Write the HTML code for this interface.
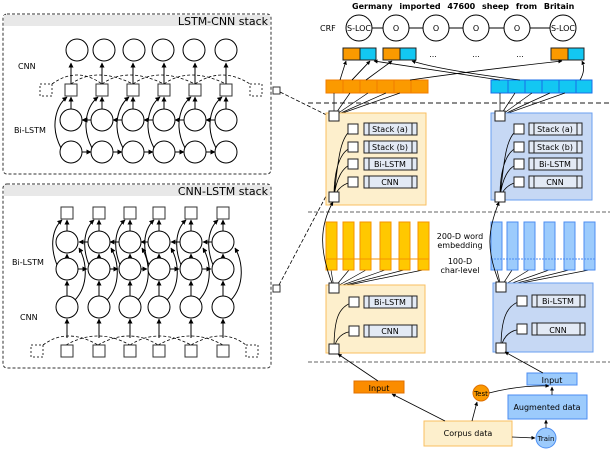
<!DOCTYPE html>
<html><head><meta charset="utf-8"><style>
html,body{margin:0;padding:0;background:#fff}
svg{display:block;font-family:"DejaVu Sans","Liberation Sans",sans-serif}
</style></head><body>
<svg width="610" height="450" viewBox="0 0 610 450" xmlns="http://www.w3.org/2000/svg">
<defs>
<marker id="a" viewBox="0 0 10 10" refX="9" refY="5" markerWidth="5" markerHeight="5" orient="auto"><path d="M0,0L10,5L0,10z" fill="#000"/></marker>
<g id="col1">
<circle cx="0" cy="152" r="11" fill="#fff" stroke="#000"/>
<circle cx="0" cy="120" r="11" fill="#fff" stroke="#000"/>
<rect x="-6" y="84" width="12" height="12" fill="#fff" stroke="#333"/>
<line x1="0" y1="109" x2="0" y2="97" stroke="#000" marker-end="url(#a)"/>
<path d="M-10,148 C-22,125 -14,105 -4,97" fill="none" stroke="#000" marker-end="url(#a)"/>
<line x1="0" y1="84" x2="0" y2="63" stroke="#000" marker-end="url(#a)"/>
</g>
<g id="col2">
<circle cx="0" cy="307" r="11" fill="#fff" stroke="#000"/>
<circle cx="0" cy="269" r="11" fill="#fff" stroke="#000"/>
<circle cx="0" cy="242" r="11" fill="#fff" stroke="#000"/>
<rect x="-6" y="207" width="12" height="12" fill="#fff" stroke="#333"/>
<line x1="0" y1="296" x2="0" y2="281" stroke="#000" marker-end="url(#a)"/>
<line x1="0" y1="258" x2="0" y2="254" stroke="#000" marker-end="url(#a)"/>
<line x1="0" y1="231" x2="0" y2="220" stroke="#000" marker-end="url(#a)"/>
<path d="M-10,265 C-18,245 -14,228 -5,220" fill="none" stroke="#000" marker-end="url(#a)"/>
<path d="M8,300 C22,285 20,262 12,248" fill="none" stroke="#000" marker-end="url(#a)"/>
<line x1="0" y1="338" x2="0" y2="319" stroke="#000" marker-end="url(#a)"/>
<rect x="-6" y="345" width="12" height="12" fill="#fff" stroke="#333"/>
</g>
<g id="item">
<rect x="0" y="0" width="53" height="12" fill="#e3eaf5" stroke="#222"/>
<line x1="5" y1="0" x2="5" y2="12" stroke="#222"/><line x1="48" y1="0" x2="48" y2="12" stroke="#222"/>
</g>
<rect id="sq" x="-5" y="-5" width="10" height="10" fill="#fff" stroke="#222"/>
</defs>

<!-- LSTM-CNN stack -->
<rect x="3" y="14" width="268" height="160" rx="4" fill="#fff" stroke="#333" stroke-dasharray="3,2"/>
<rect x="4" y="15" width="266" height="11" fill="#e8e8e8"/>
<text x="268" y="25" font-size="11" text-anchor="end">LSTM-CNN stack</text>
<text x="18" y="69" font-size="8">CNN</text>
<text x="14" y="133" font-size="8">Bi-LSTM</text>
<rect x="40" y="84" width="12" height="12" fill="#fff" stroke="#333" stroke-dasharray="2,2"/>
<rect x="250" y="84" width="12" height="12" fill="#fff" stroke="#333" stroke-dasharray="2,2"/>
<path d="M52,84 Q77,66 102,84 M71,84 Q96,66 133,84 M102,84 Q127,66 164,84 M133,84 Q158,66 195,84 M164,84 Q189,66 226,84 M195,84 Q222,66 250,84" fill="none" stroke="#000" stroke-width="0.8" stroke-dasharray="3,2"/>
<use href="#col1" x="71"/><use href="#col1" x="102"/><use href="#col1" x="133"/><use href="#col1" x="164"/><use href="#col1" x="195"/><use href="#col1" x="226"/>
<g fill="#fff" stroke="#000"><circle cx="77" cy="50" r="11"/><circle cx="104" cy="50" r="11"/><circle cx="134" cy="50" r="11"/><circle cx="163" cy="50" r="11"/><circle cx="194" cy="50" r="11"/><circle cx="226" cy="50" r="11"/></g>
<g stroke="#000" marker-end="url(#a)"><line x1="91" y1="120" x2="82" y2="120"/><line x1="122" y1="120" x2="83" y2="120" stroke-opacity="0"/><line x1="122" y1="120" x2="113" y2="120"/><line x1="153" y1="120" x2="144" y2="120"/><line x1="184" y1="120" x2="175" y2="120"/><line x1="215" y1="120" x2="206" y2="120"/>
<line x1="82" y1="152" x2="91" y2="152"/><line x1="113" y1="152" x2="122" y2="152"/><line x1="144" y1="152" x2="153" y2="152"/><line x1="175" y1="152" x2="184" y2="152"/><line x1="206" y1="152" x2="215" y2="152"/></g>
<rect x="273" y="87" width="7" height="7" fill="#fff" stroke="#333"/>

<!-- CNN-LSTM stack -->
<rect x="3" y="184" width="268" height="184" rx="4" fill="#fff" stroke="#333" stroke-dasharray="3,2"/>
<rect x="4" y="185" width="266" height="11" fill="#e8e8e8"/>
<text x="268" y="195" font-size="11" text-anchor="end">CNN-LSTM stack</text>
<text x="12" y="265" font-size="8">Bi-LSTM</text>
<text x="20" y="320" font-size="8">CNN</text>
<rect x="31" y="345" width="12" height="12" fill="#fff" stroke="#333" stroke-dasharray="2,2"/>
<rect x="246" y="345" width="12" height="12" fill="#fff" stroke="#333" stroke-dasharray="2,2"/>
<path d="M43,345 Q67,327 98,345 M66,345 Q98,327 130,345 M98,345 Q130,327 158,345 M130,345 Q158,327 191,345 M158,345 Q191,327 223,345 M191,345 Q223,327 246,345" fill="none" stroke="#000" stroke-width="0.8" stroke-dasharray="3,2"/>
<use href="#col2" x="67"/><use href="#col2" x="99"/><use href="#col2" x="130"/><use href="#col2" x="159"/><use href="#col2" x="191"/><use href="#col2" x="223"/>
<g stroke="#000" marker-end="url(#a)"><line x1="88" y1="242" x2="79" y2="242"/><line x1="119" y1="242" x2="110" y2="242"/><line x1="148" y1="242" x2="141" y2="242"/><line x1="180" y1="242" x2="171" y2="242"/><line x1="212" y1="242" x2="203" y2="242"/>
<line x1="78" y1="269" x2="87" y2="269"/><line x1="110" y1="269" x2="118" y2="269"/><line x1="141" y1="269" x2="147" y2="269"/><line x1="170" y1="269" x2="179" y2="269"/><line x1="202" y1="269" x2="211" y2="269"/></g>
<rect x="273" y="285" width="7" height="7" fill="#fff" stroke="#333"/>

<!-- dashed links -->
<line x1="280" y1="92" x2="353" y2="128" stroke="#000" stroke-width="0.8" stroke-dasharray="4,2"/>
<line x1="279" y1="285" x2="352" y2="147" stroke="#000" stroke-width="0.8" stroke-dasharray="4,2"/>

<!-- separators -->
<line x1="308" y1="103" x2="610" y2="103" stroke="#666" stroke-width="1.5" stroke-dasharray="5,3"/>
<line x1="308" y1="212" x2="610" y2="212" stroke="#333" stroke-width="0.8" stroke-dasharray="4,2"/>
<line x1="308" y1="362" x2="610" y2="362" stroke="#333" stroke-width="0.8" stroke-dasharray="4,2"/>

<!-- top words & CRF -->
<text x="352" y="9" font-size="8" font-weight="bold" word-spacing="4">Germany imported 47600 sheep from Britain</text>
<text x="320" y="31" font-size="8">CRF</text>
<line x1="359" y1="28" x2="563" y2="28" stroke="#000"/>
<g fill="#fff" stroke="#000"><circle cx="359" cy="28" r="13"/><circle cx="396" cy="28" r="13"/><circle cx="436" cy="28" r="13"/><circle cx="476" cy="28" r="13"/><circle cx="517" cy="28" r="13"/><circle cx="563" cy="28" r="13"/></g>
<g font-size="8" text-anchor="middle"><text x="359" y="31">S-LOC</text><text x="396" y="31">O</text><text x="436" y="31">O</text><text x="476" y="31">O</text><text x="517" y="31">O</text><text x="563" y="31">S-LOC</text></g>
<g stroke="#222"><rect x="343" y="48" width="17" height="12" fill="#fb9a00"/><rect x="360" y="48" width="16" height="12" fill="#13c7f2"/>
<rect x="383" y="48" width="17" height="12" fill="#fb9a00"/><rect x="400" y="48" width="16" height="12" fill="#13c7f2"/>
<rect x="551" y="48" width="17" height="12" fill="#fb9a00"/><rect x="568" y="48" width="16" height="12" fill="#13c7f2"/></g>
<g font-size="8" text-anchor="middle"><text x="433" y="57">...</text><text x="476" y="57">...</text><text x="520" y="57">...</text></g>

<!-- bars -->
<g stroke="#f07c00" fill="#fb9a00"><rect x="326" y="80" width="17" height="13"/><rect x="343" y="80" width="17" height="13"/><rect x="360" y="80" width="17" height="13"/><rect x="377" y="80" width="17" height="13"/><rect x="394" y="80" width="17" height="13"/><rect x="411" y="80" width="17" height="13"/></g>
<g stroke="#1a6ee8" fill="#13c7f2"><rect x="491" y="80" width="17" height="13"/><rect x="508" y="80" width="17" height="13"/><rect x="525" y="80" width="17" height="13"/><rect x="542" y="80" width="17" height="13"/><rect x="559" y="80" width="17" height="13"/><rect x="576" y="80" width="16" height="13"/></g>
<g stroke="#000" stroke-width="0.8" fill="none" marker-end="url(#a)">
<line x1="340" y1="80" x2="346" y2="61"/>
<line x1="352" y1="80" x2="370" y2="61" marker-end="none"/><path d="M352,80 L370,61" />
<path d="M366,80 L392,61"/>
<path d="M410,80 Q480,70 562,61"/>
<path d="M500,80 L374,61"/>
<path d="M520,80 Q440,70 412,61"/>
<path d="M580,80 Q586,70 582,61"/>
</g>
<!-- fans from panel top squares -->
<g stroke="#000" stroke-width="0.7" fill="none">
<path d="M334,116 L334,93 M334,116 L350,93 M334,116 L368,93 M334,116 L386,93 M334,116 L400,93"/>
<path d="M500,116 L500,93 M500,116 L515,93 M500,116 L532,93 M500,116 L550,93 M500,116 L565,93"/>
<path d="M334,288 L331,270 M334,288 L349,270 M334,288 L366,270 M334,288 L385,270 M334,288 L404,270 M334,288 L423,270"/>
<path d="M501,287 L497,270 M501,287 L512,270 M501,287 L529,270 M501,287 L549,270 M501,287 L569,270 M501,287 L589,270"/>
</g>

<!-- upper panels -->
<rect x="326" y="113" width="100" height="92" fill="#fdefcc" stroke="#f9bf60"/>
<rect x="491" y="113" width="101" height="87" fill="#c6d8f4" stroke="#6a9ff0"/>
<g stroke="#000" stroke-width="0.8" fill="none">
<path d="M334,197 C338,160 340,135 353,129 M334,197 C334,170 340,150 353,147 M334,197 C336,180 342,166 353,164 M334,197 C338,188 344,183 353,182"/>
<path d="M500,197 C504,160 506,135 519,129 M500,197 C500,170 506,150 519,147 M500,197 C502,180 508,166 519,164 M500,197 C504,188 510,183 519,182"/>
</g>
<use href="#sq" x="334" y="116"/><use href="#sq" x="334" y="197"/>
<use href="#sq" x="353" y="129"/><use href="#sq" x="353" y="147"/><use href="#sq" x="353" y="164"/><use href="#sq" x="353" y="182"/>
<use href="#item" x="364" y="123"/><use href="#item" x="364" y="141"/><use href="#item" x="364" y="158"/><use href="#item" x="364" y="176"/>
<use href="#sq" x="500" y="116"/><use href="#sq" x="500" y="197"/>
<use href="#sq" x="519" y="129"/><use href="#sq" x="519" y="147"/><use href="#sq" x="519" y="164"/><use href="#sq" x="519" y="182"/>
<use href="#item" x="529" y="123"/><use href="#item" x="529" y="141"/><use href="#item" x="529" y="158"/><use href="#item" x="529" y="176"/>
<g font-size="8" text-anchor="middle">
<text x="390" y="132">Stack (a)</text><text x="390" y="150">Stack (b)</text><text x="390" y="167">Bi-LSTM</text><text x="390" y="185">CNN</text>
<text x="555" y="132">Stack (a)</text><text x="555" y="150">Stack (b)</text><text x="555" y="167">Bi-LSTM</text><text x="555" y="185">CNN</text></g>

<!-- embeddings -->
<g fill="#ffc800" stroke="#f59300"><rect x="326" y="222" width="11" height="48"/><rect x="343" y="222" width="11" height="48"/><rect x="360" y="222" width="11" height="48"/><rect x="380" y="222" width="11" height="48"/><rect x="399" y="222" width="11" height="48"/><rect x="418" y="222" width="11" height="48"/></g>
<line x1="326" y1="259" x2="429" y2="259" stroke="#f59300"/>
<g fill="#9ccbfc" stroke="#4c8ef2"><rect x="491" y="222" width="11" height="48"/><rect x="507" y="222" width="11" height="48"/><rect x="524" y="222" width="11" height="48"/><rect x="544" y="222" width="11" height="48"/><rect x="564" y="222" width="11" height="48"/><rect x="584" y="222" width="11" height="48"/></g>
<line x1="491" y1="259" x2="595" y2="259" stroke="#4c8ef2" stroke-dasharray="2,1"/>
<g font-size="8" text-anchor="middle"><text x="460" y="239">200-D word</text><text x="460" y="248">embedding</text><text x="460" y="264">100-D</text><text x="460" y="273">char-level</text></g>

<!-- long curves to upper panels -->
<path d="M334,288 C318,250 320,225 333,202" fill="none" stroke="#000" stroke-width="0.8" marker-end="url(#a)"/>
<path d="M501,287 C485,250 488,230 499,202" fill="none" stroke="#000" stroke-width="0.8" marker-end="url(#a)"/>

<!-- lower panels -->
<rect x="326" y="285" width="99" height="68" fill="#fdefcc" stroke="#f9bf60"/>
<rect x="493" y="283" width="100" height="69" fill="#c6d8f4" stroke="#6a9ff0"/>
<g stroke="#000" stroke-width="0.8" fill="none">
<path d="M334,349 C334,320 338,306 354,302 M334,349 C336,338 342,332 354,331"/>
<path d="M501,348 C501,320 506,304 522,301 M501,348 C503,336 510,330 522,329"/>
</g>
<use href="#sq" x="334" y="288"/><use href="#sq" x="334" y="349"/><use href="#sq" x="354" y="302"/><use href="#sq" x="354" y="331"/>
<use href="#sq" x="501" y="287"/><use href="#sq" x="501" y="348"/><use href="#sq" x="522" y="301"/><use href="#sq" x="522" y="329"/>
<use href="#item" x="364" y="296"/><use href="#item" x="364" y="325"/>
<use href="#item" x="532" y="295"/><use href="#item" x="532" y="323"/>
<g font-size="8" text-anchor="middle"><text x="390" y="305">Bi-LSTM</text><text x="390" y="334">CNN</text><text x="558" y="304">Bi-LSTM</text><text x="558" y="333">CNN</text></g>

<!-- bottom -->
<rect x="354" y="381" width="50" height="12" fill="#fb8c00" stroke="#e07000"/>
<text x="379" y="391" font-size="8" text-anchor="middle">Input</text>
<rect x="527" y="373" width="50" height="12" fill="#9ccbfc" stroke="#4c8ef2"/>
<text x="552" y="383" font-size="8" text-anchor="middle">Input</text>
<rect x="508" y="395" width="79" height="24" fill="#9ccbfc" stroke="#4c8ef2"/>
<text x="547" y="410" font-size="8" text-anchor="middle">Augmented data</text>
<rect x="424" y="421" width="88" height="25" fill="#fdefcc" stroke="#f9bf60"/>
<text x="468" y="436" font-size="8" text-anchor="middle">Corpus data</text>
<circle cx="481" cy="393" r="8" fill="#fb9a00" stroke="#e07000"/>
<text x="481" y="396" font-size="7" text-anchor="middle">Test</text>
<circle cx="546" cy="438" r="10" fill="#9ccbfc" stroke="#4c8ef2"/>
<text x="546" y="441" font-size="7" text-anchor="middle">Train</text>
<g stroke="#000" stroke-width="0.8" fill="none" marker-end="url(#a)">
<line x1="378" y1="381" x2="338" y2="354"/>
<line x1="543" y1="373" x2="505" y2="352"/>
<line x1="445" y1="421" x2="392" y2="394"/>
<line x1="472" y1="421" x2="477" y2="402"/>
<path d="M489,393 Q520,385 549,386"/>
<line x1="552" y1="395" x2="552" y2="387"/>
<line x1="546" y1="428" x2="546" y2="420"/>
<line x1="512" y1="437" x2="535" y2="438"/>
</g>
</svg>
</body></html>
